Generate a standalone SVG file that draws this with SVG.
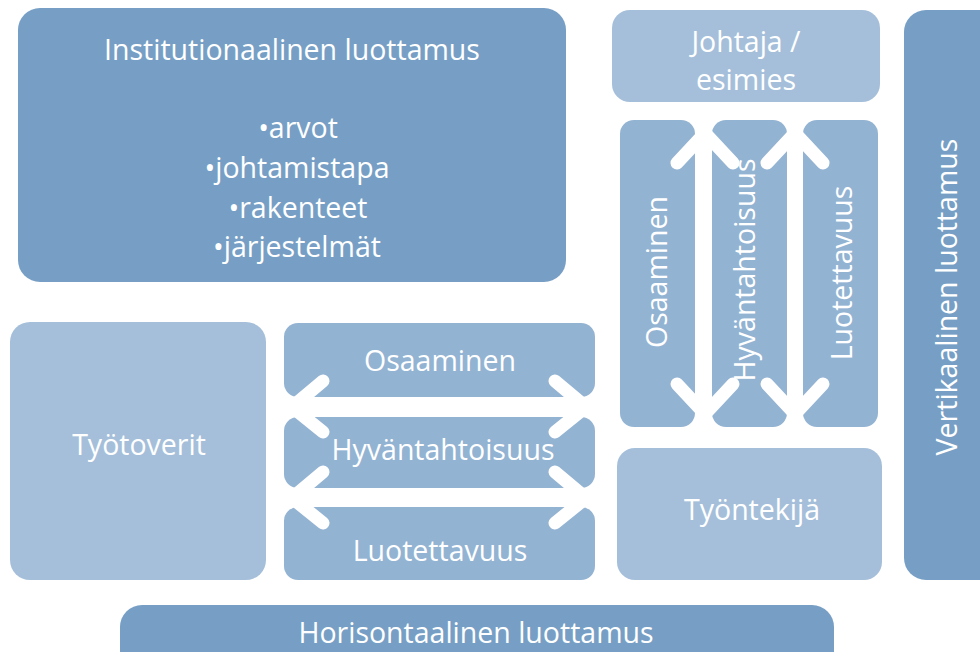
<svg xmlns="http://www.w3.org/2000/svg" width="980" height="652" viewBox="0 0 980 652">
<style>
.dark{fill:#779fc5}
.light{fill:#a5bfda}
.mid{fill:#93b3d3}
text{font-family:"Open Sans","Noto Sans","DejaVu Sans",sans-serif;fill:#ffffff;text-anchor:middle;font-size:28.5px}
.arr{stroke:#ffffff;stroke-width:13;fill:none;stroke-linecap:round;stroke-linejoin:round}
</style>
<rect width="980" height="652" fill="#ffffff"/>
<g id="institutional">
<rect class="dark" x="18" y="8" width="548" height="274" rx="22"/>
<text x="292" y="60">Institutionaalinen luottamus</text>
<text x="298" y="138">•arvot</text>
<text x="297" y="178">•johtamistapa</text>
<text x="298" y="218">•rakenteet</text>
<text x="297" y="257">•järjestelmät</text>
</g>
<g id="johtaja">
<rect class="light" x="612" y="10" width="268" height="92" rx="18"/>
<text x="746" y="52">Johtaja /</text>
<text x="746" y="90">esimies</text>
</g>
<g id="vertikaalinen">
<rect class="dark" x="904" y="10" width="100" height="570" rx="22"/>
<text transform="translate(957,297) rotate(-90)">Vertikaalinen luottamus</text>
</g>
<g id="tyotoverit">
<rect class="light" x="10" y="322" width="256" height="258" rx="20"/>
<text x="139" y="455">Työtoverit</text>
</g>
<g id="h-osaaminen">
<rect class="mid" x="284" y="323" width="311" height="74" rx="14"/>
<text x="440" y="371">Osaaminen</text>
</g>
<g id="h-hyvantahtoisuus">
<rect class="mid" x="284" y="417" width="311" height="71" rx="14"/>
<text x="443" y="460">Hyväntahtoisuus</text>
</g>
<g id="h-luotettavuus">
<rect class="mid" x="284" y="507" width="311" height="73" rx="14"/>
<text x="440" y="561">Luotettavuus</text>
</g>
<g id="v-osaaminen">
<rect class="mid" x="620" y="120" width="75" height="307" rx="14"/>
<text transform="translate(667,272) rotate(-90)">Osaaminen</text>
</g>
<g id="v-hyvantahtoisuus">
<rect class="mid" x="712" y="120" width="75" height="307" rx="14"/>
<text transform="translate(755,270) rotate(-90)">Hyväntahtoisuus</text>
</g>
<g id="v-luotettavuus">
<rect class="mid" x="803" y="120" width="75" height="307" rx="14"/>
<text transform="translate(852,273) rotate(-90)">Luotettavuus</text>
</g>
<g id="tyontekija">
<rect class="light" x="617" y="448" width="265" height="132" rx="18"/>
<text x="752" y="520">Työntekijä</text>
</g>
<g id="horisontaalinen">
<rect class="dark" x="120" y="605" width="714" height="70" rx="22"/>
<text x="476" y="643">Horisontaalinen luottamus</text>
</g>
<g id="connectors">
<path class="arr" d="M292 407 H586 M323 381 L292 407 L323 432 M555 381 L586 407 L555 432"/>
<path class="arr" d="M292 498 H586 M323 472 L292 498 L323 523 M555 472 L586 498 L555 523"/>
<path class="arr" d="M705 133 V414 M677 163 L705 133 L733 163 M677 384 L705 414 L733 384"/>
<path class="arr" d="M795 133 V414 M767 163 L795 133 L823 163 M767 384 L795 414 L823 384"/>
</g>
</svg>
